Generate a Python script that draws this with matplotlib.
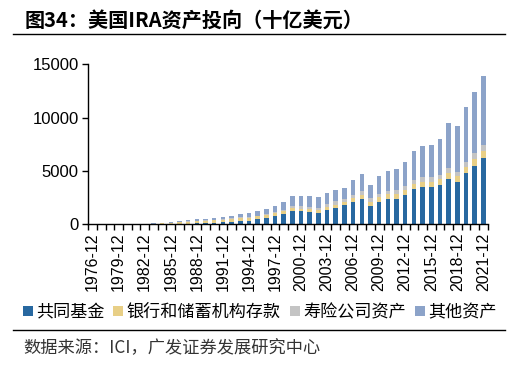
import matplotlib
matplotlib.use('Agg')
import matplotlib.pyplot as plt
import numpy as np
from matplotlib.patches import Patch
from matplotlib.lines import Line2D
from matplotlib.font_manager import FontProperties

years = list(range(1976, 2022))
categories = [f"{y}-12" for y in years]

# billions of USD
mutual_funds = [0, 0, 0, 1, 2, 3, 6, 10, 20, 40, 60, 75, 85, 110, 140, 180, 230, 320, 350, 480,
                600, 760, 960, 1250, 1220, 1150, 1060, 1340, 1560, 1780, 2090, 2400, 1720, 2090,
                2370, 2370, 2750, 3310, 3500, 3500, 3690, 4280, 3940, 4780, 5440, 6180]
bank_deposits = [2, 3, 5, 7, 12, 15, 28, 45, 70, 100, 130, 165, 200, 220, 240, 260, 265, 265, 255, 260,
                 258, 254, 249, 244, 250, 255, 263, 268, 278, 313, 336, 384, 404, 427,
                 448, 460, 470, 480, 490, 500, 520, 540, 560, 620, 680, 700]
life_insurance = [1, 1, 2, 2, 4, 5, 8, 12, 18, 25, 30, 35, 40, 45, 50, 55, 60, 65, 70, 80,
                  85, 95, 135, 200, 200, 210, 250, 280, 300, 310, 320, 325, 320, 325,
                  340, 355, 370, 390, 400, 410, 420, 440, 430, 470, 520, 540]
other_assets = [0, 1, 1, 2, 2, 3, 8, 13, 22, 35, 60, 100, 135, 155, 170, 225, 245, 330, 345, 410,
                477, 591, 766, 946, 960, 995, 947, 1072, 1122, 1017, 1454, 1641, 1236, 1648,
                1872, 1965, 2210, 2650, 2910, 3070, 3370, 4190, 4250, 5130, 5760, 6530]

series_names = ["共同基金", "银行和储蓄机构存款", "寿险公司资产", "其他资产"]
colors = ["#2868A0", "#E8CF86", "#C4C4C4", "#8CA3C9"]
y_ticks = [0, 5000, 10000, 15000]

W, H = 507, 366
fig = plt.figure(figsize=(W / 100, H / 100), dpi=100)
fig.patch.set_facecolor('white')

ax = fig.add_axes([88.3 / W, 1 - 224.3 / H, 399.4 / W, 160 / H])
x = np.arange(len(categories))
bottom = np.zeros(len(categories))
handles = []
for vals, c, name in zip([mutual_funds, bank_deposits, life_insurance, other_assets], colors, series_names):
    ax.bar(x, vals, width=0.52, bottom=bottom, color=c, linewidth=0)
    bottom = bottom + np.array(vals, dtype=float)
    handles.append(Patch(facecolor=c, edgecolor='none', label=name))

ax.set_xlim(-0.5, len(categories) - 0.5)
ax.set_ylim(0, 15000)
ax.set_yticks(y_ticks)
ax.set_yticklabels([str(v) for v in y_ticks], fontsize=12, family='Liberation Sans')
ax.set_xticks(x[::3])
ax.set_xticklabels(categories[::3], rotation=90, fontsize=11.5, family='Liberation Sans')
ax.set_xticks(np.arange(-0.5, len(categories)), minor=True)
ax.tick_params(axis='x', which='major', length=0, pad=6)
ax.tick_params(axis='x', which='minor', length=4, width=1, direction='out')
ax.tick_params(axis='y', length=4, width=1, direction='out', pad=3)
for s in ['top', 'right']:
    ax.spines[s].set_visible(False)
for s in ['left', 'bottom']:
    ax.spines[s].set_linewidth(1)
    ax.spines[s].set_color('black')

fig.legend(handles=handles, loc='center', bbox_to_anchor=(0.512, 1 - 312 / H), ncol=4, frameon=False,
           handlelength=0.6, handleheight=0.6, handletextpad=0.2, columnspacing=0.5,
           prop=FontProperties(family=['Noto Sans CJK SC', 'DejaVu Sans'], size=12.3))

fig.text(25 / W, 1 - 20 / H, "图34：美国IRA资产投向（十亿美元）", fontsize=14.5, fontweight='bold',
         va='center', ha='left', family=['Noto Sans CJK SC', 'DejaVu Sans'])
fig.add_artist(Line2D([13 / W, 505 / W], [1 - 34 / H] * 2, color='black', lw=1))
fig.add_artist(Line2D([13 / W, 505 / W], [1 - 330 / H] * 2, color='black', lw=1))
fig.text(23 / W, 1 - 348 / H, "数据来源：ICI，广发证券发展研究中心", fontsize=12.4, color='#333333',
         va='center', ha='left', family=['Noto Sans CJK SC', 'DejaVu Sans'])

fig.savefig('out.png', dpi=100, facecolor='white')
